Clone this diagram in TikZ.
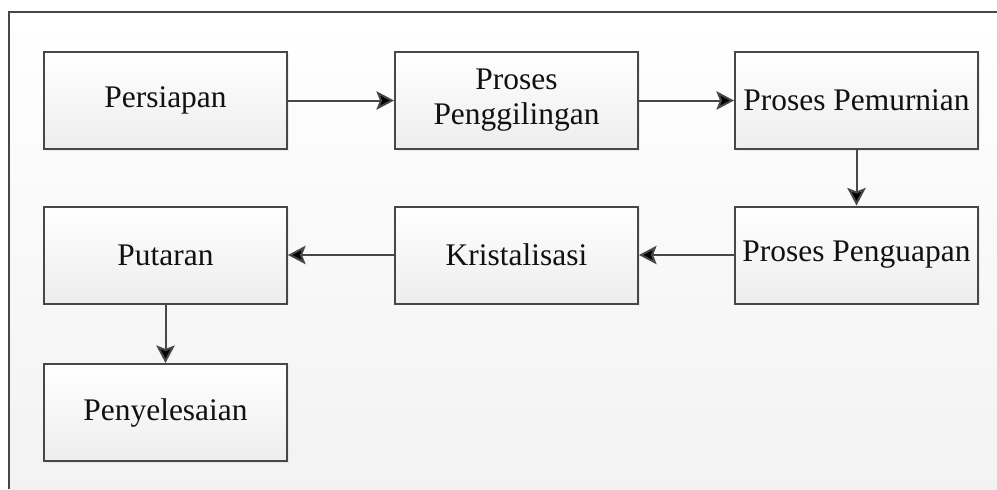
\documentclass[tikz,border=0pt]{standalone}
\usepackage{fontspec}
\setmainfont{Liberation Serif}
\usetikzlibrary{arrows.meta,positioning,shadows}

\definecolor{linegray}{HTML}{474747}
\definecolor{textgray}{HTML}{111111}

\begin{document}
\begin{tikzpicture}[%
            >={Stealth[length=10pt,width=10.5pt,inset=2pt]},
            on grid,
            box/.style={draw=linegray, line width=0.04cm, top color=white,
              bottom color=gray!14, minimum width=4.86cm, minimum height=1.94cm,
              align=center, text=textgray, font=\fontsize{17.9}{20}\selectfont,
              drop shadow={opacity=0.12, shadow xshift=1pt, shadow yshift=-1pt}},
            flow/.style={->, draw=linegray, line width=0.04cm}
            ]
            \useasboundingbox (0,0) rectangle (19.94,-9.78);
            % background and frame
            \shade[top color=white, bottom color=gray!10] (0.18,-0.24) rectangle (19.94,-9.78);
            \draw[linegray, line width=0.04cm] (0.18,-9.78) |- (19.94,-0.24);

            \node[box] (persiapan) at (3.31,-2.01) {Persiapan};
            \node[box] (penggilingan) [right=7.02cm of persiapan] {Proses\\Penggilingan};
            \node[box] (pemurnian) [right=6.8cm of penggilingan] {Proses Pemurnian};
            \node[box] (penguapan) [below=3.09cm of pemurnian] {Proses Penguapan};
            \node[box] (kristalisasi) [below=3.09cm of penggilingan] {Kristalisasi};
            \node[box] (putaran) [below=3.09cm of persiapan] {Putaran};
            \node[box] (penyelesaian) [below=3.15cm of putaran] {Penyelesaian};

            \path[flow] (persiapan) edge (penggilingan);
            \path[flow] (penggilingan) edge (pemurnian);
            \path[flow] (pemurnian) edge (penguapan);
            \path[flow] (penguapan) edge (kristalisasi);
            \path[flow] (kristalisasi) edge (putaran);
            \path[flow] (putaran) edge (penyelesaian);

        \end{tikzpicture}
\end{document}
